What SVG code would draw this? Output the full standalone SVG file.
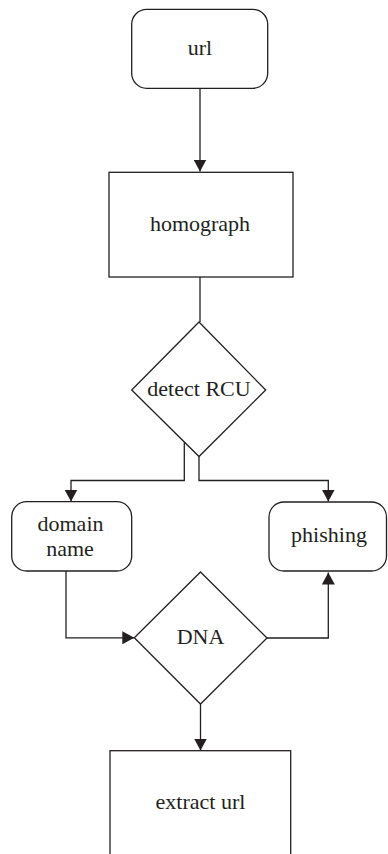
<svg xmlns="http://www.w3.org/2000/svg" width="388" height="854" viewBox="0 0 388 854">
  <style>
    .shape { fill: #ffffff; stroke: #231f20; stroke-width: 1.3; }
    .edge { fill: none; stroke: #231f20; stroke-width: 1.3; }
    .label { font-family: "Liberation Serif", "Times New Roman", serif; font-size: 22px; fill: #231f20; text-anchor: middle; }
  </style>
  <defs>
    <marker id="arrow" markerUnits="userSpaceOnUse" markerWidth="13" markerHeight="13" refX="12" refY="6.5" orient="auto">
      <path d="M0,0 L12,6.5 L0,13 Z" fill="#231f20"/>
    </marker>
  </defs>
  <rect width="388" height="854" fill="#ffffff"/>

  <!-- connectors -->
  <g id="connectors">
    <path class="edge" d="M200,88 V171.5" marker-end="url(#arrow)"/>
    <path class="edge" d="M200,277 V322"/>
    <path class="edge" d="M184.3,442.5 V480.5 H71 V501.5" marker-end="url(#arrow)"/>
    <path class="edge" d="M199,456.5 V480.5 H328.3 V501.5" marker-end="url(#arrow)"/>
    <path class="edge" d="M66,571 V637.8 H134.3" marker-end="url(#arrow)"/>
    <path class="edge" d="M267,638 H328.3 V572.5" marker-end="url(#arrow)"/>
    <path class="edge" d="M200.5,704 V750.5" marker-end="url(#arrow)"/>
  </g>

  <!-- start node -->
  <g id="url">
    <rect class="shape" x="131.7" y="9.3" width="136" height="79" rx="15" ry="15"/>
    <text class="label" x="200" y="54.5">url</text>
  </g>

  <g id="homograph">
    <rect class="shape" x="109" y="172.3" width="184" height="104.7"/>
    <text class="label" x="200" y="230.5">homograph</text>
  </g>

  <g id="detect-rcu">
    <polygon class="shape" points="199,322 265.7,390 199,456.5 131.7,390"/>
    <text class="label" x="199" y="395.5">detect RCU</text>
  </g>

  <g id="domain-name">
    <rect class="shape" x="11.7" y="501.7" width="120" height="69.3" rx="15" ry="15"/>
    <text class="label" x="70.5" y="530.5">domain</text>
    <text class="label" x="70" y="555.5">name</text>
  </g>

  <g id="phishing">
    <rect class="shape" x="269" y="502" width="117.5" height="69" rx="15" ry="15"/>
    <text class="label" x="329" y="542">phishing</text>
  </g>

  <g id="dna">
    <polygon class="shape" points="200.5,572 267,638 200.5,704 134.3,637.8"/>
    <text class="label" x="200.5" y="643.5">DNA</text>
  </g>

  <g id="extract-url">
    <rect class="shape" x="110" y="750.7" width="180.7" height="130"/>
    <text class="label" x="200.5" y="808.5">extract url</text>
  </g>
</svg>
